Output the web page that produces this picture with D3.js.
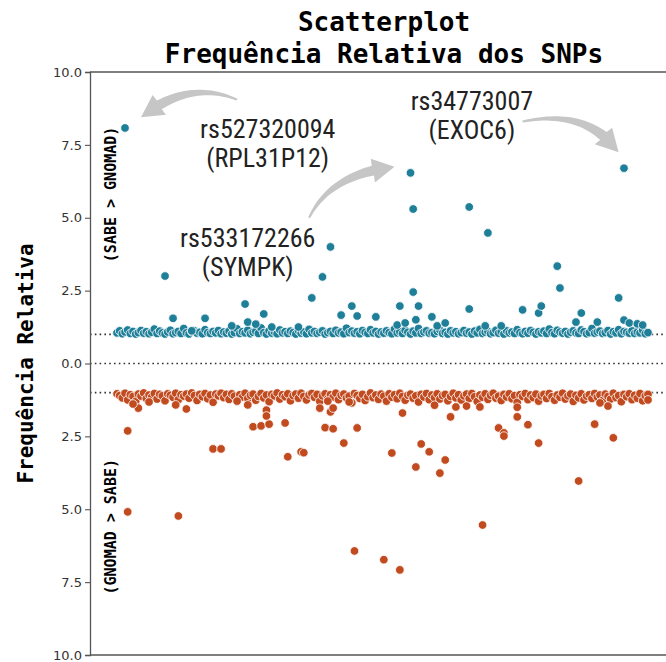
<!DOCTYPE html>
<html>
<head>
<meta charset="utf-8">
<script src="https://cdn.jsdelivr.net/npm/d3@7"></script>
<style>
  body { margin: 0; background: #fff; }
  text { white-space: pre; }
</style>
</head>
<body>
<div id="chart"></div>
<script>
////////////////////////////////////////////////////////////////////////
// Data: relative frequency per SNP (index along x), positive = SABE > gnomAD

let sabeBand = [
  1.05,1.12,1.02,1.08,1.15,1.03,1.1,1.01,1.06,1.13,1.04,1.09,1.02,1.07,1.18,1.03,1.11,1.05,1.01,1.08,
  1.14,1.02,1.06,1.1,1.03,1.2,1.05,1.01,1.09,1.12,1.04,1.07,1.02,1.16,1.06,1.03,1.1,1.05,1.13,1.02,
  1.08,1.04,1.11,1.01,1.06,1.19,1.03,1.09,1.05,1.14,1.02,1.07,1.1,1.03,1.22,1.06,1.01,1.12,1.04,1.08,
  1.02,1.15,1.05,1.09,1.03,1.11,1.06,1.01,1.13,1.04,1.08,1.02,1.17,1.05,1.1,1.03,1.07,1.12,1.01,1.06,
  1.1,1.03,1.14,1.05,1.08,1.02,1.21,1.06,1.11,1.04,1.09,1.02,1.13,1.07,1.03,1.16,1.05,1.1,1.01,1.08,
  1.04,1.12,1.06,1.02,1.18,1.05,1.09,1.03,1.14,1.07,1.01,1.11,1.05,1.2,1.03,1.08,1.12,1.04,1.06,1.02,
  1.1,1.15,1.03,1.07,1.01,1.12,1.05,1.09,1.02,1.06,1.13,1.04,1.08,1.01,1.11,1.05,1.17,1.03,1.07,1.1,
  1.02,1.06,1.14,1.04,1.09,1.01,1.12,1.05,1.08,1.03,1.16,1.06,1.02,1.1,1.04,1.13,1.07,1.01,1.09,1.05,
  1.11,1.03,1.18,1.06,1.02,1.14,1.08,1.04,1.1,1.01,1.07,1.12,1.05,1.03,1.15,1.09,1.02,1.06,1.2,1.04,
  1.08,1.11,1.03,1.06,1.13,1.01,1.09,1.05,1.16,1.02,1.1,1.07,1.04,1.12,1.03,1.08,1.05,1.14,1.02,1.06
];

let gnomadBand = [
  -1.04,-1.1,-1.18,-1.02,-1.25,-1.07,-1.13,-1.3,-1.05,-1.12,-1.01,-1.2,-1.08,-1.15,-1.03,-1.22,-1.06,-1.11,-1.28,-1.04,
  -1.09,-1.16,-1.02,-1.24,-1.07,-1.12,-1.05,-1.19,-1.01,-1.1,-1.27,-1.06,-1.14,-1.03,-1.21,-1.08,-1.33,-1.05,-1.11,-1.02,
  -1.17,-1.06,-1.23,-1.04,-1.12,-1.29,-1.07,-1.15,-1.02,-1.2,-1.09,-1.05,-1.26,-1.13,-1.03,-1.18,-1.08,-1.31,-1.06,-1.11,
  -1.01,-1.22,-1.07,-1.14,-1.04,-1.28,-1.1,-1.05,-1.19,-1.02,-1.13,-1.25,-1.08,-1.03,-1.16,-1.06,-1.3,-1.11,-1.04,-1.21,
  -1.07,-1.15,-1.02,-1.24,-1.09,-1.05,-1.18,-1.12,-1.35,-1.03,-1.1,-1.2,-1.06,-1.27,-1.14,-1.01,-1.17,-1.08,-1.23,-1.05,
  -1.12,-1.29,-1.04,-1.16,-1.07,-1.21,-1.02,-1.13,-1.26,-1.09,-1.05,-1.19,-1.11,-1.32,-1.06,-1.15,-1.03,-1.24,-1.08,-1.17,
  -1.04,-1.22,-1.1,-1.06,-1.28,-1.13,-1.02,-1.18,-1.07,-1.25,-1.11,-1.05,-1.2,-1.03,-1.14,-1.3,-1.08,-1.16,-1.04,-1.23,
  -1.09,-1.02,-1.19,-1.12,-1.27,-1.06,-1.15,-1.04,-1.21,-1.1,-1.33,-1.07,-1.13,-1.03,-1.24,-1.08,-1.17,-1.05,-1.29,-1.11,
  -1.06,-1.2,-1.03,-1.14,-1.26,-1.08,-1.16,-1.02,-1.22,-1.11,-1.05,-1.3,-1.09,-1.18,-1.04,-1.25,-1.12,-1.07,-1.2,-1.03,
  -1.15,-1.08,-1.27,-1.05,-1.13,-1.22,-1.02,-1.17,-1.1,-1.31,-1.06,-1.14,-1.04,-1.24,-1.09,-1.19,-1.03,-1.28,-1.11,-1.06
];

// SNPs that stand out from the band: [index, value]
let sabeOut = [
  [3,8.08],[18,3.0],[21,1.55],[28,1.12],[33,1.55],[43,1.29],[48,2.04],[49,1.42],[52,1.35],[55,1.7],
  [58,1.25],[68,1.25],[73,2.25],[77,2.97],[80,4.0],[84,1.66],[88,1.97],[90,1.63],[97,1.6],[105,1.32],
  [106,1.97],[108,1.39],[110,6.54],[111,5.3],[111,2.45],[112,1.5],[113,1.97],[118,1.6],[120,1.29],[123,1.39],
  [132,5.37],[132,1.87],[139,4.48],[138,1.29],[144,1.29],[152,1.84],[158,1.73],[159,1.97],[165,3.34],[166,2.59],
  [172,1.42],[174,1.73],[180,1.42],[188,2.25],[190,6.7],[190,1.49],[192,1.39],[195,1.36],[197,1.32]
];

let gnomadOut = [
  [4,-2.31],[4,-5.09],[23,-5.23],[8,-1.53],[6,-1.39],[12,-1.32],[22,-1.42],[26,-1.56],[36,-2.93],[39,-2.93],
  [45,-1.29],[49,-1.42],[51,-2.17],[54,-2.14],[57,-2.08],[56,-1.6],[56,-1.8],[63,-2.04],[64,-3.2],[69,-3.03],
  [70,-3.06],[76,-1.53],[79,-1.29],[80,-1.66],[81,-1.53],[78,-2.2],[81,-2.24],[85,-2.73],[87,-1.32],[90,-2.21],
  [89,-6.43],[100,-6.73],[106,-7.08],[107,-1.7],[103,-3.07],[112,-3.55],[114,-2.76],[117,-3.03],[121,-3.76],[123,-3.31],
  [125,-1.83],[127,-1.49],[131,-1.46],[136,-1.49],[137,-5.54],[143,-2.21],[145,-2.38],[145,-2.49],[150,-1.83],[150,-1.5],
  [154,-2.1],[158,-2.73],[173,-4.03],[179,-2.08],[186,-2.55],[184,-1.46],[199,-1.25],[181,-1.35],[119,-1.43]
];

let yTicks = [10, 7.5, 5, 2.5, 0, -2.5, -5, -7.5, -10];
let refLines = [1, 0, -1];

// highlighted SNPs: label lines, anchor and arrow [tail, control, tip] in data units
let notes = [
  { lines: ["rs527320094", "(RPL31P12)"], at: [56.5, 7.72], arrow: [[45, 9.05], [27, 9.75], [9, 8.45]] },
  { lines: ["rs34773007", "(EXOC6)"], at: [133, 8.68], arrow: [[152, 8.3], [176, 8.75], [188, 7.25]] },
  { lines: ["rs533172266", "(SYMPK)"], at: [49, 3.98], arrow: [[72, 5.0], [80, 6.5], [104, 6.75]] }
];

////////////////////////////////////////////////////////////////////////
// svg setup

let width = 666;
let height = 662;
let margin = { left: 90, top: 72, right: 0, bottom: 7 };

let svg = d3.select("#chart")
  .append("svg")
  .attr("width", width).attr("height", height);

let xScale = d3.scaleLinear()
  .domain([0, 199])
  .range([117, 648]);

let yScale = d3.scaleLinear()
  .domain([-10, 10])
  .range([height - margin.bottom, margin.top]);

let teal = "#1f7f98";
let orange = "#c14a1f";

// title
svg.append("g").selectAll("text")
  .data(["Scatterplot", "Frequência Relativa dos SNPs"])
  .enter().append("text")
  .attr("x", 384)
  .attr("y", (d, i) => 31 + i * 32)
  .attr("text-anchor", "middle")
  .style("font-family", "'DejaVu Sans Mono', monospace")
  .style("font-weight", "bold")
  .style("font-size", "26px")
  .text(d => d);

// y label
svg.append("text")
  .attr("transform", "translate(33," + yScale(0) + ") rotate(-90)")
  .attr("text-anchor", "middle")
  .style("font-family", "'DejaVu Sans Mono', monospace")
  .style("font-weight", "bold")
  .style("font-size", "21px")
  .text("Frequência Relativa");

// reference dotted lines
svg.append("g").selectAll("line")
  .data(refLines)
  .enter().append("line")
  .attr("x1", margin.left).attr("x2", width)
  .attr("y1", d => yScale(d)).attr("y2", d => yScale(d))
  .style("stroke", "#333")
  .style("stroke-width", 1.6)
  .style("stroke-dasharray", "1.6,3.2");

// frame
svg.append("g").selectAll("line")
  .data([10, -10])
  .enter().append("line")
  .attr("x1", margin.left).attr("x2", width)
  .attr("y1", d => yScale(d)).attr("y2", d => yScale(d))
  .style("stroke", "#555")
  .style("stroke-width", 1.3);

// y axis, absolute values on both sides
let yAxis = d3.axisLeft(yScale)
  .tickValues(yTicks)
  .tickSize(5)
  .tickPadding(3)
  .tickFormat(d => Math.abs(d).toFixed(1));

let axisG = svg.append("g")
  .attr("transform", "translate(" + margin.left + ",0)")
  .call(yAxis);
axisG.select(".domain").style("stroke", "#555").style("stroke-width", 1.3);
axisG.selectAll(".tick line").style("stroke", "#555").style("stroke-width", 1.1);
axisG.selectAll(".tick text")
  .style("font-family", "'DejaVu Sans', sans-serif")
  .style("font-size", "13px")
  .style("fill", "#333");

// side labels
svg.append("g").selectAll("text")
  .data([["(SABE > GNOMAD)", 5.8], ["(GNOMAD > SABE)", -5.6]])
  .enter().append("text")
  .attr("transform", d => "translate(116," + yScale(d[1]) + ") rotate(-90)")
  .attr("text-anchor", "middle")
  .style("font-family", "'DejaVu Sans Mono', monospace")
  .style("font-weight", "bold")
  .style("font-size", "15px")
  .text(d => d[0]);

// points
function drawPoints(pts, color) {
  svg.append("g").selectAll("circle")
    .data(pts)
    .enter().append("circle")
    .attr("cx", d => xScale(d[0]))
    .attr("cy", d => yScale(d[1]))
    .attr("r", 4.3)
    .style("fill", color)
    .style("stroke", "#fff")
    .style("stroke-width", 0.8);
}

drawPoints(sabeBand.map((v, i) => [i, v]), teal);
drawPoints(sabeOut, teal);
drawPoints(gnomadBand.map((v, i) => [i, v]), orange);
drawPoints(gnomadOut, orange);

// annotation arrows: tapered quadratic curve with a triangular head
function arrowShape(a) {
  let p = a.map(d => [xScale(d[0]), yScale(d[1])]);
  let n = 24, headLen = 22, headHalf = 12;
  function q(t) {
    let u = 1 - t;
    return [u*u*p[0][0] + 2*u*t*p[1][0] + t*t*p[2][0],
            u*u*p[0][1] + 2*u*t*p[1][1] + t*t*p[2][1]];
  }
  // point along curve at distance headLen from the tip
  let tEnd = 1;
  for (let t = 1; t > 0; t -= 0.005) {
    let c = q(t);
    if (Math.hypot(c[0] - p[2][0], c[1] - p[2][1]) >= headLen) { tEnd = t; break; }
  }
  let left = [], right = [];
  for (let i = 0; i <= n; i++) {
    let t = tEnd * i / n;
    let c = q(t), c2 = q(Math.min(t + 0.01, 1));
    let dx = c2[0] - c[0], dy = c2[1] - c[1], len = Math.hypot(dx, dy);
    let nx = -dy / len, ny = dx / len;
    let w = 1 + 4 * (i / n);
    left.push([c[0] + nx * w, c[1] + ny * w]);
    right.push([c[0] - nx * w, c[1] - ny * w]);
  }
  let base = q(tEnd);
  let dx = p[2][0] - base[0], dy = p[2][1] - base[1], len = Math.hypot(dx, dy);
  let nx = -dy / len, ny = dx / len;
  let head = [[base[0] + nx * headHalf, base[1] + ny * headHalf], p[2],
              [base[0] - nx * headHalf, base[1] - ny * headHalf]];
  let pts = left.concat(head).concat(right.reverse());
  return "M" + pts.map(d => d[0].toFixed(1) + "," + d[1].toFixed(1)).join("L") + "Z";
}

let noteG = svg.append("g");
noteG.selectAll("path")
  .data(notes)
  .enter().append("path")
  .attr("d", d => arrowShape(d.arrow))
  .style("fill", "#c6c6c6");

notes.forEach(function(note) {
  noteG.append("g").selectAll("text")
    .data(note.lines)
    .enter().append("text")
    .attr("x", xScale(note.at[0]))
    .attr("y", (d, i) => yScale(note.at[1]) + i * 29)
    .attr("text-anchor", "middle")
    .style("font-family", "'Liberation Sans Narrow', 'Roboto Condensed', Roboto, sans-serif")
    .style("font-size", "26px")
    .style("fill", "#222")
    .text(d => d);
});
</script>
</body>
</html>
